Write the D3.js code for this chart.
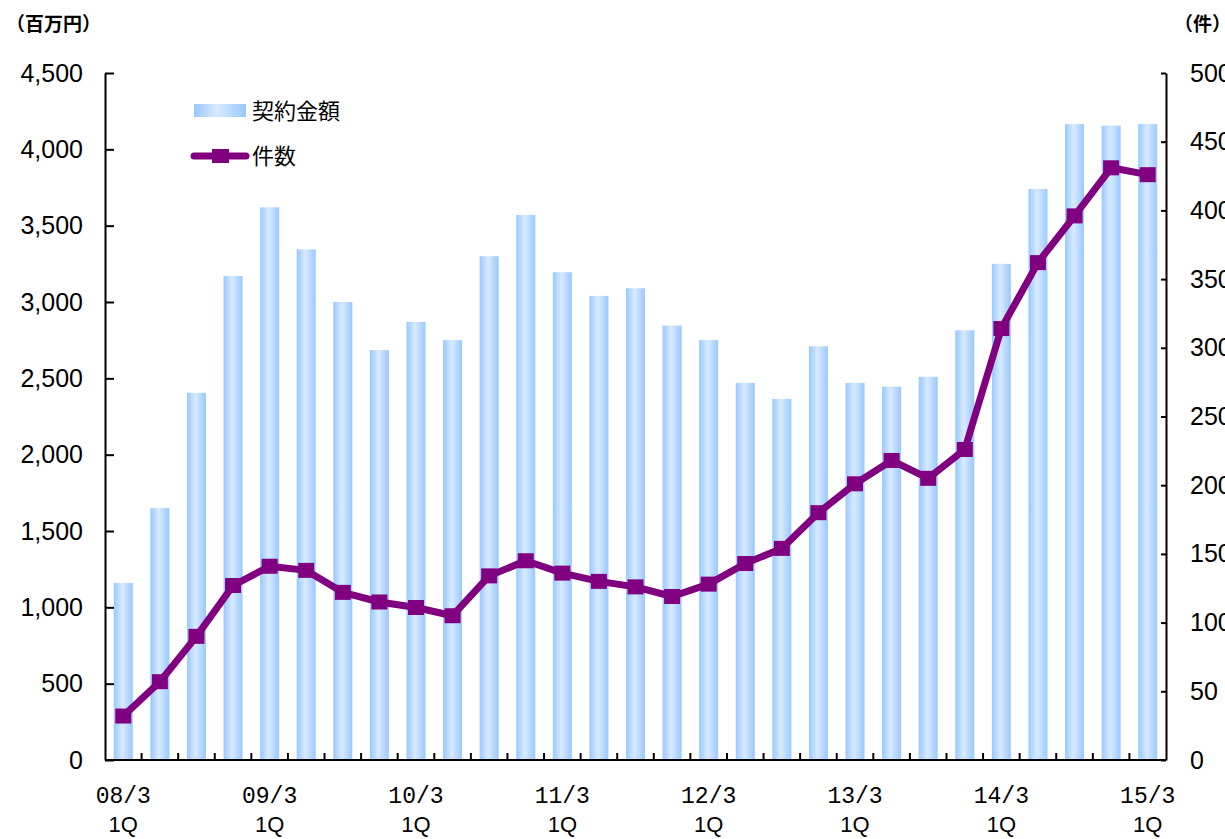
<!DOCTYPE html>
<html>
<head>
<meta charset="utf-8">
<script src="https://cdn.jsdelivr.net/npm/d3@7"></script>
<style>
  body { margin: 0; background: #fff; }
  svg { display: block; }
</style>
</head>
<body>
<div id="chart"></div>
<script>
// quarters, fiscal year (ending March) + quarter
const quarters = [
    '08/3 1Q', '08/3 2Q', '08/3 3Q', '08/3 4Q',
    '09/3 1Q', '09/3 2Q', '09/3 3Q', '09/3 4Q',
    '10/3 1Q', '10/3 2Q', '10/3 3Q', '10/3 4Q',
    '11/3 1Q', '11/3 2Q', '11/3 3Q', '11/3 4Q',
    '12/3 1Q', '12/3 2Q', '12/3 3Q', '12/3 4Q',
    '13/3 1Q', '13/3 2Q', '13/3 3Q', '13/3 4Q',
    '14/3 1Q', '14/3 2Q', '14/3 3Q', '14/3 4Q',
    '15/3 1Q',
];
// 契約金額 (百万円)
const amounts = [
    1160, 1650, 2405, 3170,
    3620, 3345, 3000, 2685,
    2870, 2750, 3300, 3570,
    3195, 3040, 3090, 2845,
    2750, 2470, 2365, 2710,
    2470, 2445, 2510, 2815,
    3250, 3740, 4165, 4155,
    4165,
];
// 件数
const counts = [
    32, 57, 90, 127,
    141, 138, 122, 115,
    111, 105, 134, 145,
    136, 130, 126, 119,
    128, 143, 154, 180,
    201, 218, 205, 226,
    314, 362, 396, 431,
    426,
];
const leftTicks = [0, 500, 1000, 1500, 2000, 2500, 3000, 3500, 4000, 4500];
const rightTicks = [0, 50, 100, 150, 200, 250, 300, 350, 400, 450, 500];

const width = 1225;
const height = 839;
const plot = { left: 105, right: 1166, top: 73, bottom: 760 };
const purple = '#800080';
const numFont = '"Liberation Sans", Arial, sans-serif';
const jpFont = '"Noto Sans CJK JP", sans-serif';

const svg = d3.select('#chart')
    .append('svg')
    .attr('width', width)
    .attr('height', height);

const defs = svg.append('defs');
const grad = defs.append('linearGradient')
    .attr('id', 'barGrad')
    .attr('x1', '0%').attr('x2', '100%')
    .attr('y1', '0%').attr('y2', '0%');
grad.append('stop').attr('offset', '0%').attr('stop-color', '#99c8ff');
grad.append('stop').attr('offset', '45%').attr('stop-color', '#d8eaff');
grad.append('stop').attr('offset', '100%').attr('stop-color', '#99c8ff');

const x = d3.scaleBand()
    .domain(quarters)
    .range([plot.left, plot.right])
    .paddingInner(0.48)
    .paddingOuter(0.24);

const yL = d3.scaleLinear().domain([0, 4500]).range([plot.bottom, plot.top]);
const yR = d3.scaleLinear().domain([0, 500]).range([plot.bottom, plot.top]);

// bars
svg.append('g')
    .selectAll('rect')
    .data(amounts)
    .join('rect')
    .attr('x', (d, i) => x(quarters[i]))
    .attr('y', d => yL(d))
    .attr('width', x.bandwidth())
    .attr('height', d => yL(0) - yL(d))
    .attr('fill', 'url(#barGrad)');

// left axis
const axisL = svg.append('g')
    .attr('transform', `translate(${plot.left},0)`)
    .call(d3.axisLeft(yL).tickValues(leftTicks).tickFormat(d3.format(','))
        .tickSizeInner(-9).tickSizeOuter(0).tickPadding(22));

// right axis
const axisR = svg.append('g')
    .attr('transform', `translate(${plot.right},0)`)
    .call(d3.axisRight(yR).tickValues(rightTicks)
        .tickSizeInner(-5).tickSizeOuter(0).tickPadding(24));

[axisL, axisR].forEach(ax => {
    ax.select('.domain').attr('stroke', '#000').attr('stroke-width', 2);
    ax.selectAll('.tick line').attr('stroke', '#000').attr('stroke-width', 2);
    ax.selectAll('.tick text')
        .attr('fill', '#000')
        .style('font-family', numFont)
        .style('font-size', '25px');
});

// bottom axis
const xAxis = svg.append('g');
xAxis.append('line')
    .attr('x1', plot.left).attr('x2', plot.right)
    .attr('y1', plot.bottom).attr('y2', plot.bottom)
    .attr('stroke', '#000').attr('stroke-width', 2);
xAxis.selectAll('.qtick')
    .data(quarters.slice(1))
    .join('line')
    .attr('class', 'qtick')
    .attr('x1', d => x(d) - x.step() * x.paddingInner() / 2)
    .attr('x2', d => x(d) - x.step() * x.paddingInner() / 2)
    .attr('y1', plot.bottom)
    .attr('y2', plot.bottom - 7)
    .attr('stroke', '#000').attr('stroke-width', 2);

const labelled = quarters.filter(q => q.endsWith('1Q'));
const lab = xAxis.selectAll('.qlabel')
    .data(labelled)
    .join('text')
    .attr('class', 'qlabel')
    .attr('text-anchor', 'middle')
    .attr('x', d => x(d) + x.bandwidth() / 2)
    .attr('fill', '#000');
lab.append('tspan')
    .attr('x', d => x(d) + x.bandwidth() / 2)
    .attr('y', 803)
    .style('font-family', '"Liberation Mono", monospace')
    .style('font-size', '23px')
    .text(d => d.split(' ')[0]);
lab.append('tspan')
    .attr('x', d => x(d) + x.bandwidth() / 2)
    .attr('y', 832)
    .style('font-family', numFont)
    .style('font-size', '22px')
    .text(d => d.split(' ')[1]);

// line
const line = d3.line()
    .x((d, i) => x(quarters[i]) + x.bandwidth() / 2)
    .y(d => yR(d));

svg.append('path')
    .datum(counts)
    .attr('d', line)
    .attr('fill', 'none')
    .attr('stroke', purple)
    .attr('stroke-width', 7)
    .attr('stroke-linejoin', 'round');

const mk = 16;
svg.append('g')
    .selectAll('rect')
    .data(counts)
    .join('rect')
    .attr('x', (d, i) => x(quarters[i]) + x.bandwidth() / 2 - mk / 2)
    .attr('y', d => yR(d) - mk / 2 + 0.5)
    .attr('width', mk)
    .attr('height', mk - 1)
    .attr('fill', purple);

// axis titles
svg.append('text')
    .attr('x', 6).attr('y', 31)
    .style('font-family', jpFont)
    .style('font-size', '19px')
    .style('font-weight', 'bold')
    .text('（百万円）');
svg.append('text')
    .attr('x', 1174).attr('y', 31)
    .style('font-family', jpFont)
    .style('font-size', '19px')
    .style('font-weight', 'bold')
    .text('（件）');

// legend
const legend = svg.append('g');
legend.append('rect')
    .attr('x', 194).attr('y', 104)
    .attr('width', 52).attr('height', 13)
    .attr('fill', 'url(#barGrad)');
legend.append('text')
    .attr('x', 252).attr('y', 111)
    .attr('dy', '0.36em')
    .style('font-family', jpFont)
    .style('font-size', '22px')
    .text('契約金額');
legend.append('line')
    .attr('x1', 194).attr('x2', 246)
    .attr('y1', 156).attr('y2', 156)
    .attr('stroke', purple)
    .attr('stroke-width', 7)
    .attr('stroke-linecap', 'round');
legend.append('rect')
    .attr('x', 212).attr('y', 149)
    .attr('width', 17).attr('height', 14)
    .attr('fill', purple);
legend.append('text')
    .attr('x', 252).attr('y', 156)
    .attr('dy', '0.36em')
    .style('font-family', jpFont)
    .style('font-size', '22px')
    .text('件数');
</script>
</body>
</html>
